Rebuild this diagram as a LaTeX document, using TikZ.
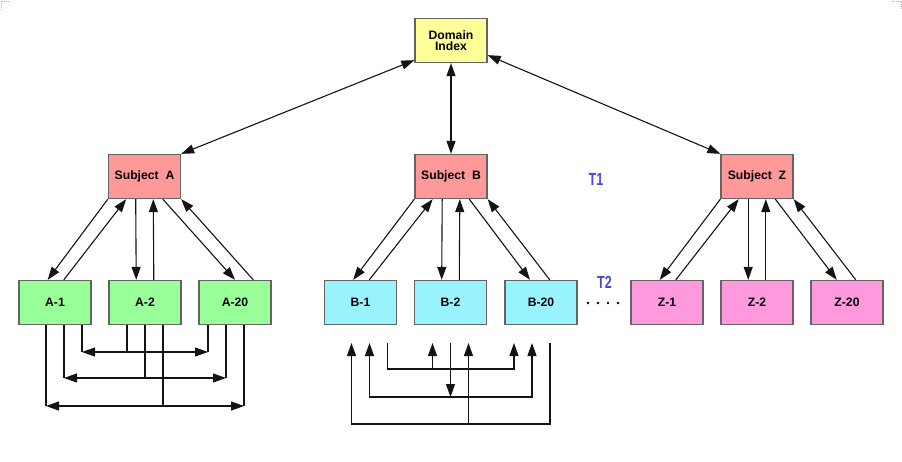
\documentclass[tikz,border=0pt]{standalone}
\usepackage{fontspec}
\setmainfont{Liberation Sans}
\usepackage{graphicx}
\usepackage{tikz}
\usetikzlibrary{calc,arrows.meta}

\definecolor{boxline}{RGB}{100,100,100}
\definecolor{domfill}{RGB}{255,255,153}
\definecolor{subjfill}{RGB}{255,153,153}
\definecolor{afill}{RGB}{153,255,153}
\definecolor{bfill}{RGB}{153,243,255}
\definecolor{zfill}{RGB}{255,153,221}
\definecolor{tblue}{RGB}{72,72,216}
\definecolor{wire}{RGB}{20,20,20}

\begin{document}
\begin{tikzpicture}[
	x=1pt, y=-1pt,
	box/.style={
		draw=boxline, line width=1.3pt, rectangle,
		minimum width=72pt, minimum height=44pt,
		inner sep=0pt, align=center, text=black,
		font=\fontsize{12.2}{11.5}\selectfont\bfseries
	},
	tlabel/.style={text=tblue, inner sep=0pt,
		font=\fontsize{17.5}{17.5}\selectfont\bfseries},
	cornermark/.style={draw=gray!60, line width=1pt, dash pattern=on 1pt off 1pt},
	>={Triangle[length=13pt,width=9pt]},
	draw=wire, line width=1.1pt
	]
	\useasboundingbox (0,0) rectangle (902,461);
	\draw[cornermark] (1,10) -- (1,1) -- (10,1);
	\draw[cornermark] (892,1) -- (901,1) -- (901,10);

	% top levels
	\node[box,fill=domfill] (dom) at (451,40.5) {Domain\\Index};
	\node[box,fill=subjfill] (sa) at (144.5,176.5) {Subject~~A};
	\node[box,fill=subjfill] (sb) at (451,176.5) {Subject~~B};
	\node[box,fill=subjfill] (sz) at (757,176.5) {Subject~~Z};

	% leaves
	\foreach \n/\x in {1/55, 2/145, 20/235}
		\node[box,fill=afill] (a\n) at (\x,302.5) {A-\n};
	\foreach \n/\x in {1/360.5, 2/450.5, 20/541}
		\node[box,fill=bfill] (b\n) at (\x,302.5) {B-\n};
	\foreach \n/\x in {1/667, 2/757, 20/847}
		\node[box,fill=zfill] (z\n) at (\x,302.5) {Z-\n};

	\node[tlabel] (t1) at (596,179) {\scalebox{0.72}[1]{T1}};
	\node[tlabel] (t2) at (604.5,282.5) {\scalebox{0.72}[1]{T2}};
	\foreach \x in {588,598,608,618}
		\fill[black] (\x,303) circle (1.3pt);

	\draw[<->] ([yshift=3pt]dom.south west) -- (sa.north east);
	\draw[<->] (dom.south) -- (sb.north);
	\draw[<->] ([yshift=8pt]dom.south east) -- (sz.north west);

	\foreach \s/\ra/\rb in {a/0.5/0.75, b/0.35/0.62, z/0.36/0.62}
	{
		\draw[->] (s\s.south west) -- ($(\s1.north west)!0.4!(\s1.north east)$);
		\draw[->] ($(\s1.north west)!0.62!(\s1.north east)$) -- ($(s\s.south west)!0.25!(s\s.south east)$);
		\draw[->] ($(s\s.south west)!0.38!(s\s.south east)$) -- ($(\s2.north west)!0.38!(\s2.north east)$);
		\draw[->] ($(\s2.north west)!0.62!(\s2.north east)$) -- ($(s\s.south west)!0.62!(s\s.south east)$);
		\draw[->] ($(s\s.south west)!0.75!(s\s.south east)$) -- ($(\s20.north west)!\ra!(\s20.north east)$);
		\draw[->] ($(\s20.north west)!\rb!(\s20.north east)$) -- (s\s.south east);
	}

	% A links
	\foreach \p/\q/\r/\lv in {27/-18/-27/352, 9/0/-9/378, -9/18/9/406}
	{
		\path ([xshift=\p pt]a1.south) coordinate (s1)
			([xshift=\q pt]a2.south) coordinate (s2)
			([xshift=\r pt]a20.south) coordinate (s3);
		\draw (s1) -- (s1 |- 0,\lv);
		\draw (s2) -- (s2 |- 0,\lv);
		\draw (s3) -- (s3 |- 0,\lv);
		\draw[<->] (s1 |- 0,\lv) -- (s3 |- 0,\lv);
	}

	% B links
	\path ([xshift=27pt]b1.south) coordinate (p1)
		([xshift=-18pt]b2.south) coordinate (p2)
		([xshift=-27pt]b20.south) coordinate (p3);
	\draw[->] (p1 |- 0,343) -- (p1 |- 0,369) -- (p3 |- 0,369) -- (p3 |- 0,343);
	\draw[->] (p2 |- 0,369) -- (p2 |- 0,343);

	\path ([xshift=9pt]b1.south) coordinate (q1)
		(b2.south) coordinate (q2)
		([xshift=-9pt]b20.south) coordinate (q3);
	\draw[<->] (q1 |- 0,343) -- (q1 |- 0,397) -- (q3 |- 0,397) -- (q3 |- 0,343);
	\draw[->] (q2 |- 0,343) -- (q2 |- 0,397);

	\path ([xshift=-9pt]b1.south) coordinate (r1)
		([xshift=18pt]b2.south) coordinate (r2)
		([xshift=9pt]b20.south) coordinate (r3);
	\draw[->] (r3 |- 0,343) -- (r3 |- 0,424) -- (r1 |- 0,424) -- (r1 |- 0,343);
	\draw[->] (r2 |- 0,424) -- (r2 |- 0,343);
\end{tikzpicture}
\end{document}
